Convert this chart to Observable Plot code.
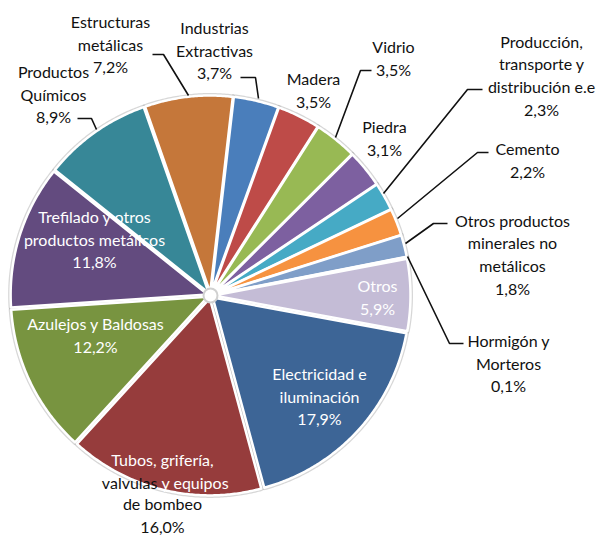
<!DOCTYPE html>
<html><head><meta charset="utf-8">
<script src="https://cdn.jsdelivr.net/npm/d3@7"></script>
<script src="https://cdn.jsdelivr.net/npm/@observablehq/plot@0.6"></script>
<style>body{margin:0;background:#fff}</style>
</head><body><div id="chart"></div>
<script>
// ---- data ----
const categories = [
  "Industrias Extractivas", "Madera", "Vidrio", "Piedra",
  "Producción, transporte y distribución e.e", "Cemento",
  "Otros productos minerales no metálicos", "Hormigón y Morteros", "Otros",
  "Electricidad e iluminación", "Tubos, grifería, valvulas y equipos de bombeo",
  "Azulejos y Baldosas", "Trefilado y otros productos metálicos",
  "Productos Químicos", "Estructuras metálicas"
];
const values = [3.7, 3.5, 3.5, 3.1, 2.3, 2.2, 1.8, 0.1, 5.9, 17.9, 16.0, 12.2, 11.8, 8.9, 7.2];
const labelLines = [
  "Industrias\nExtractivas", "Madera", "Vidrio", "Piedra",
  "Producción,\ntransporte y\ndistribución e.e", "Cemento",
  "Otros productos\nminerales no\nmetálicos", "Hormigón y\nMorteros", "Otros",
  "Electricidad e\niluminación", "Tubos, grifería,\nvalvulas y equipos\nde bombeo",
  "Azulejos y Baldosas", "Trefilado y otros\nproductos metálicos",
  "Productos\nQuímicos", "Estructuras\nmetálicas"
];

// ---- styles ----
const colors = [
  "#4a7ebb", "#be4b48", "#98b954", "#7d60a0", "#46aac5", "#f69240",
  "#7f9ec8", "#d99694", "#c4bcd6", "#3d6596", "#963c3c", "#789440",
  "#634b7f", "#378797", "#c5773a"
];
const whiteLabel = new Set(["Otros", "Electricidad e iluminación", "Azulejos y Baldosas", "Trefilado y otros productos metálicos"]);

// ---- layout (pixel positions of label blocks and leader lines) ----
const W = 603, H = 535;
const cx = 210, cy = 295, R = 197, explode = 3, startDeg = 6.6;
const labelPos = {
  "Industrias Extractivas": [214, 49],
  "Madera": [313, 88.5],
  "Vidrio": [393, 56.5],
  "Piedra": [384, 136.5],
  "Producción, transporte y distribución e.e": [541, 74],
  "Cemento": [527, 158.5],
  "Otros productos minerales no metálicos": [512, 253],
  "Hormigón y Morteros": [508, 362],
  "Otros": [377, 295.5],
  "Electricidad e iluminación": [319, 395],
  "Azulejos y Baldosas": [95, 334],
  "Trefilado y otros productos metálicos": [94, 238],
  "Productos Químicos": [53, 93],
  "Estructuras metálicas": [110, 43]
};
const leaders = {
  "Estructuras metálicas": [[152,54],[163,54],[188,95]],
  "Productos Químicos": [[77,118],[91,118],[96,129]],
  "Industrias Extractivas": [[240,77],[255,77],[258,98]],
  "Vidrio": [[371,70],[360,70],[335,137]],
  "Producción, transporte y distribución e.e": [[482,89],[467,89],[383,193]],
  "Cemento": [[488,152],[477,152],[397,218]],
  "Otros productos minerales no metálicos": [[447,223],[433,223],[405,243]],
  "Hormigón y Morteros": [[407,256],[449,343],[463,343]]
};

// ---- build slices ----
const total = d3.sum(values);
const slicePts = [];
let acc = 0;
categories.forEach((name, i) => {
  const a0 = startDeg * Math.PI / 180 + acc / total * 2 * Math.PI;
  acc += values[i];
  const a1 = startDeg * Math.PI / 180 + acc / total * 2 * Math.PI;
  const am = (a0 + a1) / 2;
  const ox = cx + explode * Math.sin(am), oy = cy - explode * Math.cos(am);
  const n = Math.max(2, Math.ceil((a1 - a0) / (Math.PI / 360)));
  slicePts.push({name, x: ox, y: oy});
  for (let k = 0; k <= n; k++) {
    const a = a0 + (a1 - a0) * k / n;
    slicePts.push({name, x: ox + R * Math.sin(a), y: oy - R * Math.cos(a)});
  }
  slicePts.push({name, x: ox, y: oy});
});

const pct = v => v.toFixed(1).replace(".", ",") + "%";
const labels = [];
categories.forEach((name, i) => {
  if (!labelPos[name]) return;
  labels.push({name, x: labelPos[name][0], y: labelPos[name][1], text: labelLines[i] + "\n" + pct(values[i]), white: whiteLabel.has(name)});
});
// Tubos label: split colours like the reference
const tIdx = categories.indexOf("Tubos, grifería, valvulas y equipos de bombeo");
const tLines = labelLines[tIdx].split("\n");
const cut = tLines[1].indexOf(" y ");
const tubosWhiteMid = [{x: 162, y: 458, text: tLines[0]}];
const tubosWhiteStart = [{x: 161, y: 481, text: tLines[1].slice(cut + 1)}];
const tubosDarkEnd = [{x: 157, y: 481, text: tLines[1].slice(0, cut)}];
const tubosDarkMid = [{x: 162, y: 514, text: tLines[2] + "\n" + pct(values[tIdx])}];

const leaderPts = [];
Object.entries(leaders).forEach(([id, pts]) => pts.forEach(([x, y]) => leaderPts.push({id, x, y})));

const fontSize = 16;
const txt = {x: "x", y: "y", text: "text", fontSize, lineHeight: 1.42};
const chart = Plot.plot({
  width: W, height: H, margin: 0,
  x: {domain: [0, W], range: [0, W], axis: null},
  y: {domain: [0, H], range: [0, H], axis: null},
  color: {domain: categories, range: colors},
  style: {fontFamily: "Lato, sans-serif", background: "white"},
  marks: [
    Plot.line(slicePts, {x: "x", y: "y", z: "name", stroke: "#8c8c8c", strokeWidth: 5, strokeOpacity: 0.35, curve: "linear"}),
    Plot.line(slicePts, {x: "x", y: "y", z: "name", fill: "name", stroke: "white", strokeWidth: 2.5, curve: "linear"}),
    Plot.dot([{x: cx, y: cy}], {x: "x", y: "y", r: 7, fill: "white", stroke: "#d0d0d0", strokeWidth: 2}),
    Plot.line(leaderPts, {x: "x", y: "y", z: "id", stroke: "#111", strokeWidth: 1.6, strokeLinejoin: "miter", strokeLinecap: "butt"}),
    Plot.text(labels.filter(d => !d.white), {...txt, fill: "#111"}),
    Plot.text(labels.filter(d => d.white), {...txt, fill: "white"}),
    Plot.text(tubosWhiteMid, {...txt, fill: "white"}),
    Plot.text(tubosWhiteStart, {...txt, fill: "white", textAnchor: "start"}),
    Plot.text(tubosDarkEnd, {...txt, fill: "#111", textAnchor: "end"}),
    Plot.text(tubosDarkMid, {...txt, fill: "#111"})
  ]
});
document.getElementById("chart").appendChild(chart);
</script>
</body></html>
